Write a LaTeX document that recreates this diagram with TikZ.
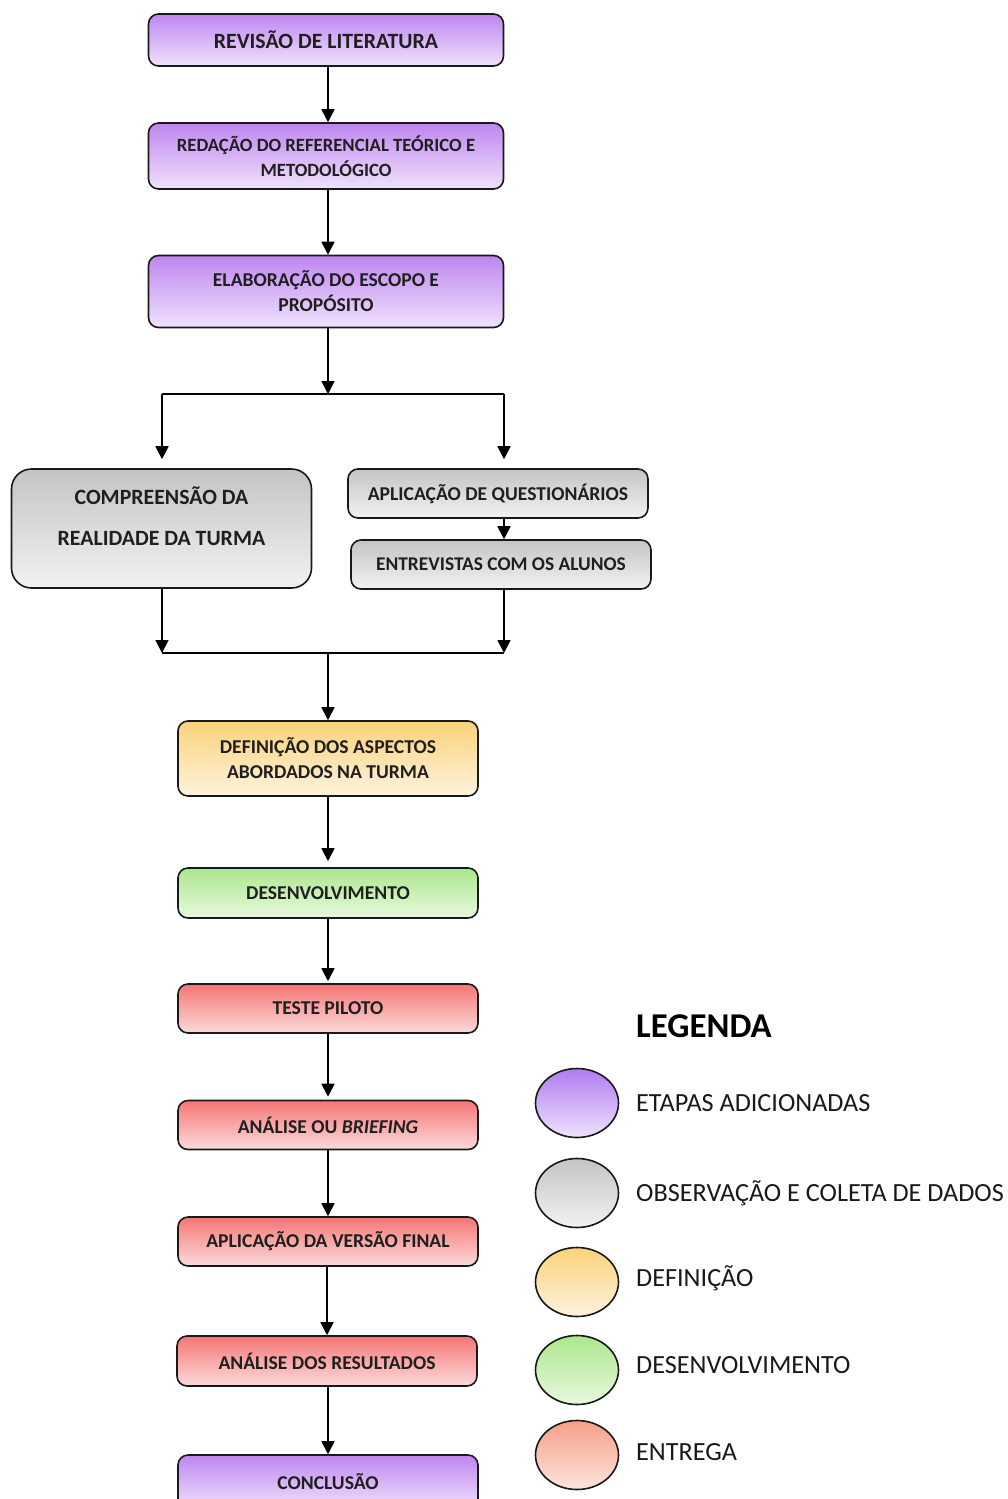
\documentclass[tikz,border=0pt]{standalone}
\usepackage{fontspec}
\setmainfont{Carlito}
\usetikzlibrary{arrows.meta,shapes.geometric}

% gradient colours of the step categories
\definecolor{purpleTop}{RGB}{190,134,240}
\definecolor{purpleBot}{RGB}{240,226,252}
\definecolor{grayTop}{RGB}{196,196,196}
\definecolor{grayBot}{RGB}{242,242,242}
\definecolor{yellowTop}{RGB}{250,210,122}
\definecolor{yellowBot}{RGB}{254,243,222}
\definecolor{greenTop}{RGB}{172,230,142}
\definecolor{greenBot}{RGB}{232,249,222}
\definecolor{redTop}{RGB}{245,118,118}
\definecolor{redBot}{RGB}{252,218,218}
\definecolor{salmonTop}{RGB}{245,160,136}
\definecolor{salmonBot}{RGB}{253,228,222}
\definecolor{edge}{RGB}{25,25,25}

\tikzset{
  stepbox/.style={draw=edge, line width=1.6pt, rounded corners=10pt,
    minimum width=300pt, inner sep=0pt, align=center, text=black!88,
    font=\bfseries\fontsize{19.6}{25}\selectfont},
  wide/.style={minimum width=355pt},
  added/.style={top color=purpleTop, bottom color=purpleBot},
  observ/.style={top color=grayTop, bottom color=grayBot},
  defin/.style={top color=yellowTop, bottom color=yellowBot},
  devel/.style={top color=greenTop, bottom color=greenBot},
  deliv/.style={top color=redTop, bottom color=redBot},
  arr/.style={line width=1.8pt, -{Triangle[width=13pt,length=13pt]}},
  plain/.style={line width=1.8pt},
  keyshape/.style={ellipse, draw=edge, line width=1.6pt,
    minimum width=83pt, minimum height=69pt, inner sep=0pt},
  keytext/.style={anchor=west, inner sep=0pt, text=black!90,
    font=\fontsize{26.2}{30}\selectfont},
}

\begin{document}
\begin{tikzpicture}[x=1pt, y=-1pt]
\useasboundingbox (0,0) rectangle (1008,1499);

% main column
\node[stepbox, wide, added, minimum height=52pt,
      font=\bfseries\fontsize{21.8}{25}\selectfont] (b1) at (326,40) {REVISÃO DE LITERATURA};
\node[stepbox, wide, added, minimum height=66pt,
      font=\bfseries\fontsize{18.7}{25}\selectfont] (b2) at (326,156) {REDAÇÃO DO REFERENCIAL TEÓRICO E\\METODOLÓGICO};
\node[stepbox, wide, added, minimum height=72pt] (b3) at (326,291.5) {ELABORAÇÃO DO ESCOPO E\\PROPÓSITO};

% data collection branch
\node[stepbox, observ, rounded corners=20pt, minimum height=119pt, text depth=25pt,
      font=\bfseries\fontsize{21.8}{41}\selectfont] (gl) at (161.5,528.5)
      {COMPREENSÃO DA\\REALIDADE DA TURMA};
\node[stepbox, observ, minimum height=49pt] (gr1) at (498,493.5) {APLICAÇÃO DE QUESTIONÁRIOS};
\node[stepbox, observ, minimum height=49pt,
      font=\bfseries\fontsize{19.4}{25}\selectfont] (gr2) at (501,564.5) {ENTREVISTAS COM OS ALUNOS};

\node[stepbox, defin, minimum height=75pt] (def) at (328,758.5) {DEFINIÇÃO DOS ASPECTOS\\ABORDADOS NA TURMA};
\node[stepbox, devel, minimum height=50pt] (dev) at (328,893) {DESENVOLVIMENTO};
\node[stepbox, deliv, minimum height=49pt] (tp) at (328,1008.5) {TESTE PILOTO};
\node[stepbox, deliv, minimum height=49pt] (an) at (328,1125) {ANÁLISE OU \textit{BRIEFING}};
\node[stepbox, deliv, minimum height=49pt] (ap) at (328,1241.5) {APLICAÇÃO DA VERSÃO FINAL};
\node[stepbox, deliv, minimum height=50pt] (res) at (327,1361) {ANÁLISE DOS RESULTADOS};
\node[stepbox, added, minimum height=54pt] (con) at (328,1482) {CONCLUSÃO};

% split and merge points
\coordinate (fm) at (328,394);
\coordinate (fl) at (162,394);
\coordinate (fr) at (504,394);
\coordinate (jl) at (162,653);
\coordinate (jr) at (504,653);
\coordinate (jm) at (328,653);

% connectors
\draw[arr] (b1.south -| fm) -- (b2.north -| fm);
\draw[arr] (b2.south -| fm) -- (b3.north -| fm);
\draw[arr] (b3.south -| fm) -- (fm);
\draw[plain] (fl) -- (fr);
\draw[arr, shorten >=9pt] (fl) -- (fl |- gl.north);
\draw[arr, shorten >=9pt] (fr) -- (fr |- gr1.north);
\draw[arr] (gr1.south -| fr) -- (gr2.north -| fr);
\draw[arr] (gl.south -| jl) -- (jl);
\draw[arr] (gr2.south -| jr) -- (jr);
\draw[plain] (jl) -- (jr);
\draw[arr] (jm) -- (def.north -| jm);
\draw[arr, shorten >=6pt] (def.south) -- (dev.north);
\draw[arr, shorten >=2pt] (dev.south) -- (tp.north);
\draw[arr, shorten >=3pt] (tp.south) -- (an.north);
\draw[arr] (an.south) -- (ap.north);
\draw[arr] (ap.south -| res) -- (res.north);
\draw[arr] (res.south -| con) -- (con.north);

% legend
\node[anchor=west, inner sep=0pt, text=black, font=\bfseries\fontsize{34.8}{40}\selectfont]
  (leg) at (636,1026) {LEGENDA};
\node[keyshape, top color=purpleTop!92!blue, bottom color=purpleBot] (k1) at (577,1103) {};
\node[keyshape, top color=grayTop, bottom color=grayBot] (k2) at (577,1193) {};
\node[keyshape, top color=yellowTop, bottom color=yellowBot] (k3) at (577,1282) {};
\node[keyshape, top color=greenTop, bottom color=greenBot] (k4) at (577,1370) {};
\node[keyshape, top color=salmonTop, bottom color=salmonBot] (k5) at (577,1455) {};
\node[keytext] (t1) at (636,1103) {ETAPAS ADICIONADAS};
\node[keytext] (t2) at (636,1193) {OBSERVAÇÃO E COLETA DE DADOS};
\node[keytext] (t3) at (636,1278) {DEFINIÇÃO};
\node[keytext] (t4) at (636,1365) {DESENVOLVIMENTO};
\node[keytext] (t5) at (636,1452) {ENTREGA};
\end{tikzpicture}
\end{document}
